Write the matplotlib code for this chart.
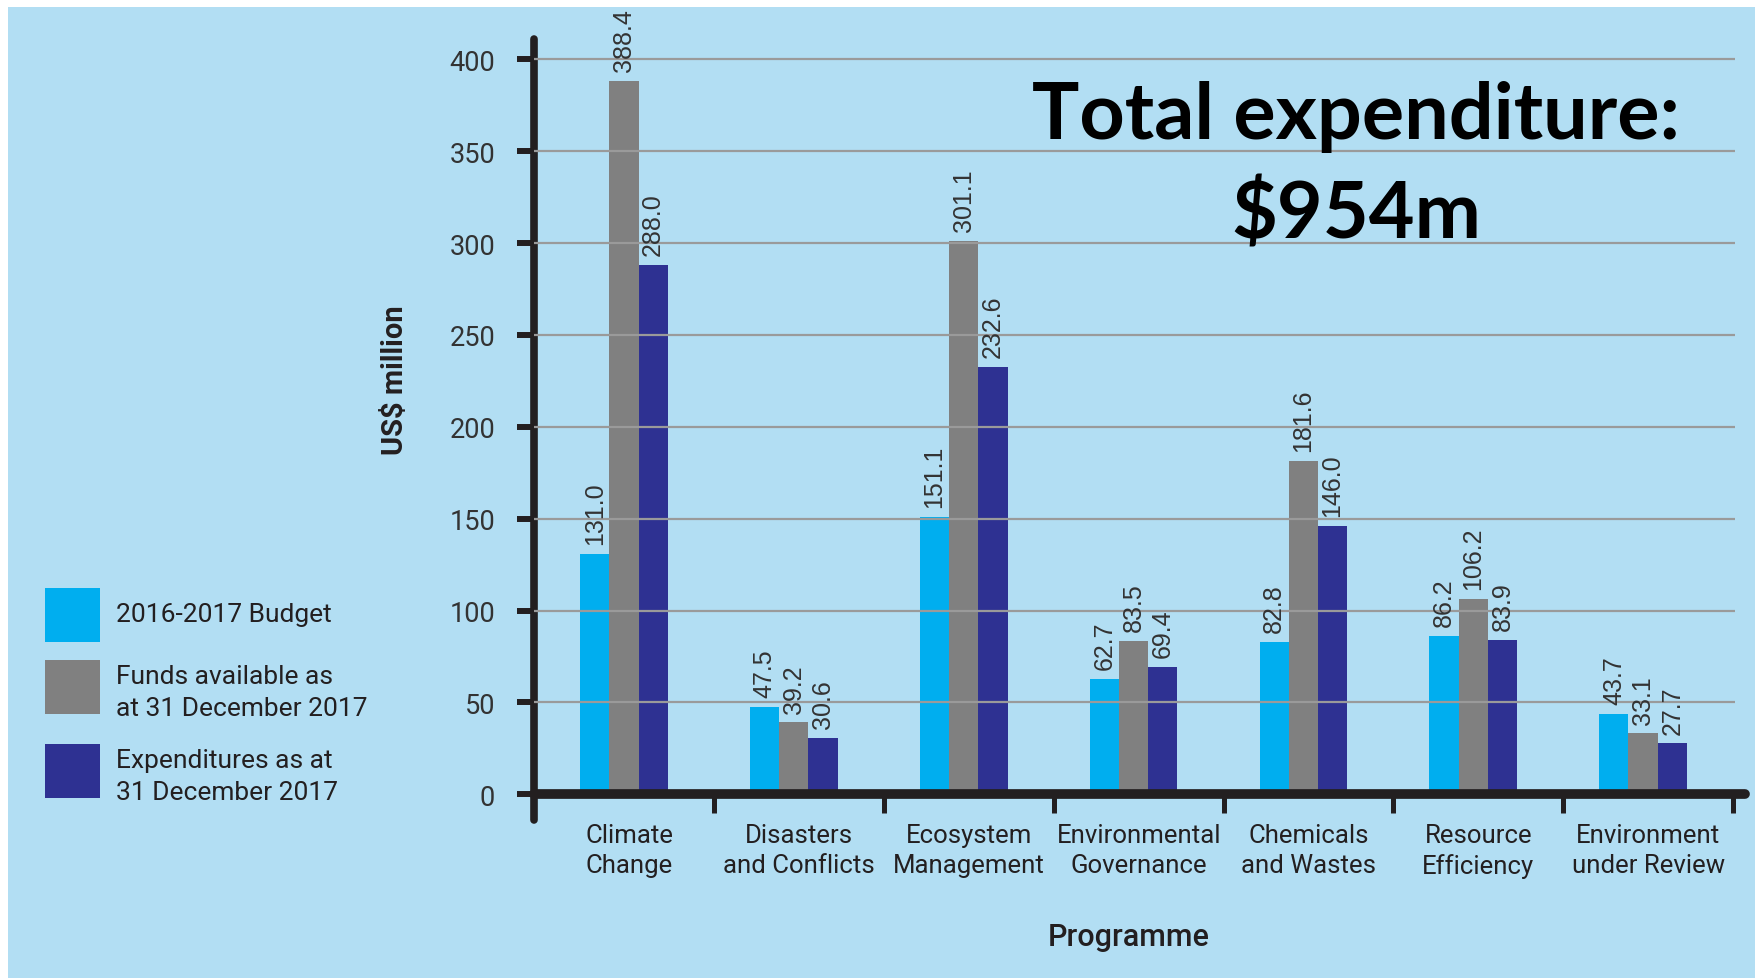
import matplotlib.pyplot as plt
from matplotlib.patches import Rectangle
import numpy as np

# data
programmes = ["Climate\nChange", "Disasters\nand Conflicts", "Ecosystem\nManagement",
              "Environmental\nGovernance", "Chemicals\nand Wastes", "Resource\nEfficiency",
              "Environment\nunder Review"]
budget = [131.0, 47.5, 151.1, 62.7, 82.8, 86.2, 43.7]
funds = [388.4, 39.2, 301.1, 83.5, 181.6, 106.2, 33.1]
expenditures = [288.0, 30.6, 232.6, 69.4, 146.0, 83.9, 27.7]
series_names = ["2016-2017 Budget", "Funds available as\nat 31 December 2017",
                "Expenditures as at\n31 December 2017"]
colors = ["#00AEEF", "#808080", "#2E3192"]
yticks = [0, 50, 100, 150, 200, 250, 300, 350, 400]

BG = "#B2DEF3"
DARK = "#231F20"
W, H = 1756, 979

fig = plt.figure(figsize=(W / 100, H / 100), dpi=100, facecolor="white")
fig.add_artist(Rectangle((8 / W, 0), 1 - 8 / W, 1 - 8 / H, transform=fig.transFigure,
                         facecolor=BG, edgecolor="none", zorder=0))

ax = fig.add_axes([534 / W, 158 / H, (1745 - 534) / W, 0.7977])
ax.set_facecolor("none")

x = np.arange(len(programmes))
bw = 0.172
for i, (vals, c) in enumerate(zip([budget, funds, expenditures], colors)):
    bars = ax.bar(x + (i - 1) * bw, vals, width=bw, color=c, zorder=2)
    for b, v in zip(bars, vals):
        ax.annotate(f"{v:.1f}", (b.get_x() + b.get_width() / 2, v), xytext=(0, 7),
                    textcoords="offset points", rotation=90, ha="center", va="bottom",
                    fontsize=18, family="Liberation Sans", color="#333333", zorder=4)

ax.set_xlim(-0.53, 6.6)
ax.set_ylim(-14, 411)

# gridlines sit on top of the bars in the original
ax.hlines(yticks[1:], -0.53, 6.54, color="#9A9A9A", lw=1.6, zorder=3)

for s in ["top", "right"]:
    ax.spines[s].set_visible(False)
ax.spines["left"].set_linewidth(5.5)
ax.spines["left"].set_color(DARK)
ax.spines["left"].set_capstyle("round")
ax.spines["bottom"].set_position(("data", 0))
ax.spines["bottom"].set_linewidth(7)
ax.spines["bottom"].set_color(DARK)
ax.spines["bottom"].set_capstyle("round")
ax.spines["bottom"].set_zorder(5)

ax.set_yticks(yticks)
ax.set_yticklabels([str(t) for t in yticks], fontsize=19.5, family="Roboto", color="#333333")
ax.tick_params(axis="y", direction="out", length=12, width=4.3, color=DARK, pad=16)

ax.set_xticks(x + 0.03)
ax.set_xticklabels(programmes, fontsize=18.5, family="Roboto", color=DARK, linespacing=1.3)
ax.tick_params(axis="x", which="major", length=0, pad=21)
ax.set_xticks(x + 0.53, minor=True)
ax.tick_params(axis="x", which="minor", direction="out", length=13.5, width=3.6, color=DARK)

fig.text(395 / W, 1 - 380 / H, "US$ million", rotation=90, ha="center", va="center",
         fontsize=21, family="Roboto", fontweight="bold", color=DARK)
fig.text(1129 / W, 1 - 938 / H, "Programme", ha="center", va="center",
         fontsize=22, family="Roboto", fontweight="medium", color=DARK)

# legend drawn by hand, as in the source graphic
box_tops = [589, 661, 745]
text_y = [615, 693, 777]
for c, name, top, ty in zip(colors, series_names, box_tops, text_y):
    fig.add_artist(Rectangle((45 / W, 1 - (top + 54) / H), 55 / W, 54 / H,
                             transform=fig.transFigure, facecolor=c, edgecolor="none"))
    fig.text(116 / W, 1 - ty / H, name, ha="left", va="center", fontsize=19,
             family="Roboto", color=DARK, linespacing=1.45)

fig.text(1356 / W, 1 - 139 / H, "Total expenditure:", ha="center", va="baseline",
         fontsize=57, family="Lato", fontweight="bold", color="black")
fig.text(1356 / W, 1 - 239 / H, "$954m", ha="center", va="baseline",
         fontsize=57, family="Lato", fontweight="bold", color="black")

fig.savefig("out.png", dpi=100, facecolor="white")
